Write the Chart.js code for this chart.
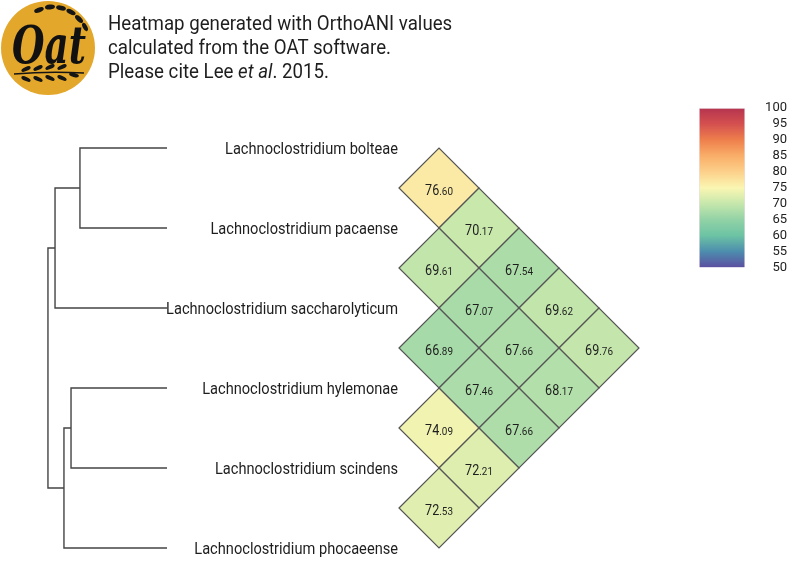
<!DOCTYPE html>
<html>
<head>
<meta charset="utf-8">
<script src="https://cdn.jsdelivr.net/npm/chart.js@4.4.1/dist/chart.umd.min.js"></script>
<style>
  html, body { margin: 0; padding: 0; background: #fff; }
  #wrap { position: relative; width: 789px; height: 561px; overflow: hidden; }
  #heat { position: absolute; left: 0; top: 0; }
  #bar { position: absolute; left: 690px; top: 95px; }
  #logo { position: absolute; left: 0; top: 0; }
  #note {
    position: absolute; left: 108px; top: 11px;
    font: 21px/24px Roboto, sans-serif; color: #1e1e1e;
    transform: scaleX(0.89); transform-origin: 0 0; white-space: nowrap;
  }
</style>
</head>
<body>
<div id="wrap">
  <canvas id="heat" width="789" height="561"></canvas>
  <canvas id="bar" width="99" height="185"></canvas>
  <svg id="logo" width="100" height="100" viewBox="0 0 100 100">
    <circle cx="48" cy="48" r="47" fill="#e3a72b"/>
    <g fill="#151515">
      <ellipse cx="39" cy="10" rx="5" ry="2.4" transform="rotate(-20 39 10)"/>
      <ellipse cx="50" cy="7" rx="5" ry="2.4" transform="rotate(-5 50 7)"/>
      <ellipse cx="61" cy="8" rx="5" ry="2.4" transform="rotate(12 61 8)"/>
      <ellipse cx="71" cy="12" rx="5" ry="2.4" transform="rotate(28 71 12)"/>
      <ellipse cx="79" cy="19" rx="5" ry="2.4" transform="rotate(45 79 19)"/>
      <ellipse cx="85" cy="27" rx="4.5" ry="2.2" transform="rotate(62 85 27)"/>
    </g>
    <path d="M14 74 Q48 71 84 73" stroke="#151515" stroke-width="1.6" fill="none"/>
    <g fill="#151515">
      <ellipse cx="26" cy="69" rx="5" ry="2" transform="rotate(-25 26 69)"/>
      <ellipse cx="38" cy="68" rx="5" ry="2" transform="rotate(-25 38 68)"/>
      <ellipse cx="50" cy="67" rx="5" ry="2" transform="rotate(-25 50 67)"/>
      <ellipse cx="62" cy="67" rx="5" ry="2" transform="rotate(-25 62 67)"/>
      <ellipse cx="26" cy="79" rx="5" ry="2" transform="rotate(25 26 79)"/>
      <ellipse cx="38" cy="79" rx="5" ry="2" transform="rotate(25 38 79)"/>
      <ellipse cx="50" cy="78" rx="5" ry="2" transform="rotate(25 50 78)"/>
      <ellipse cx="62" cy="78" rx="5" ry="2" transform="rotate(25 62 78)"/>
      <ellipse cx="74" cy="75" rx="5" ry="2" transform="rotate(15 74 75)"/>
    </g>
    <text x="49" y="63" text-anchor="middle" font-family="DejaVu Serif" font-weight="bold"
          font-style="italic" font-size="52" textLength="74" lengthAdjust="spacingAndGlyphs"
          fill="#111">Oat</text>
  </svg>
  <div id="note">Heatmap generated with OrthoANI values<br>calculated from the OAT software.<br>Please cite Lee <i>et al</i>. 2015.</div>
</div>

<script>
// leaves, top to bottom
const leafNames = [
  'Lachnoclostridium bolteae',
  'Lachnoclostridium pacaense',
  'Lachnoclostridium saccharolyticum',
  'Lachnoclostridium hylemonae',
  'Lachnoclostridium scindens',
  'Lachnoclostridium phocaeense'
];

// OrthoANI pairs (leaf index i, leaf index j) and values
const pairI = [0, 0, 1, 0, 1, 0, 2, 1, 0, 2, 1, 3, 2, 3, 4];
const pairJ = [1, 2, 2, 3, 3, 4, 3, 4, 5, 4, 5, 4, 5, 5, 5];
const aniValues = [76.60, 70.17, 69.61, 67.54, 67.07, 69.62, 66.89, 67.66,
                   69.76, 67.46, 68.17, 74.09, 67.66, 72.21, 72.53];

// dendrogram merges: children (0-5 leaves, 6+ earlier merges) and height
const mergeLeft = [0, 6, 3, 8, 7];
const mergeRight = [1, 2, 4, 5, 9];
const mergeHeight = [11.7, 15.05, 12.9, 13.85, 16.0];

// colour key
const keyTicks = [50, 55, 60, 65, 70, 75, 80, 85, 90, 95, 100];
const keyColors = ['#5b4ea0', '#4d8dae', '#6cc3a4', '#92d2a6', '#c6e7ac', '#faf6b2',
                   '#fcd08a', '#f9ae69', '#ee7f4c', '#d4504f', '#b5344f'];

const W = 789, H = 561;
const leafStep = 80, leafTop = 148, cellLeft = 399, treeTip = 167, treeUnit = 7.44;

function hexRgb(h) {
  return [1, 3, 5].map(k => parseInt(h.slice(k, k + 2), 16));
}

function colorFor(v) {
  if (v <= keyTicks[0]) return keyColors[0];
  for (let k = 1; k < keyTicks.length; k++) {
    if (v <= keyTicks[k]) {
      const t = (v - keyTicks[k - 1]) / (keyTicks[k] - keyTicks[k - 1]);
      const a = hexRgb(keyColors[k - 1]), b = hexRgb(keyColors[k]);
      const c = a.map((x, n) => Math.round(x + (b[n] - x) * t));
      return `rgb(${c[0]},${c[1]},${c[2]})`;
    }
  }
  return keyColors[keyColors.length - 1];
}

const heatPoints = aniValues.map((v, k) => ({
  x: (pairJ[k] - pairI[k]) / 2,
  y: (pairI[k] + pairJ[k]) / 2,
  v: v
}));

// tree branches
const nodeY = leafNames.map((_, i) => i);
const nodeH = leafNames.map(() => 0);
const treeSets = [];
mergeLeft.forEach((a, k) => {
  const b = mergeRight[k], h = mergeHeight[k];
  treeSets.push({
    data: [
      {x: nodeH[a], y: nodeY[a]}, {x: h, y: nodeY[a]},
      {x: h, y: nodeY[b]}, {x: nodeH[b], y: nodeY[b]}
    ],
    xAxisID: 'xTree',
    showLine: true,
    pointRadius: 0,
    borderColor: '#444',
    borderWidth: 1.4
  });
  nodeY.push((nodeY[a] + nodeY[b]) / 2);
  nodeH.push(h);
});

function drawNarrow(ctx, text, x, y, font, sx, align) {
  ctx.save();
  ctx.translate(x, y);
  ctx.scale(sx, 1);
  ctx.font = font;
  ctx.textAlign = align;
  ctx.textBaseline = 'alphabetic';
  ctx.fillText(text, 0, 0);
  ctx.restore();
}

const textPlugin = {
  id: 'textPlugin',
  afterDatasetsDraw(chart) {
    const {ctx, scales} = chart;
    ctx.save();
    ctx.fillStyle = '#1e1e1e';
    const labelX = scales.x.getPixelForValue(0) - 1;
    leafNames.forEach((name, i) => {
      drawNarrow(ctx, name, labelX, scales.y.getPixelForValue(i) + 6, '17px Roboto', 0.86, 'right');
    });

    const meta = chart.getDatasetMeta(0);
    const sx = 0.9;
    meta.data.forEach((pt, k) => {
      const s = aniValues[k].toFixed(2);
      const dot = s.indexOf('.');
      const whole = s.slice(0, dot), frac = s.slice(dot);
      ctx.font = '14px Roboto';
      const w1 = ctx.measureText(whole).width;
      ctx.font = '11px Roboto';
      const w2 = ctx.measureText(frac).width;
      const start = pt.x - (w1 + w2) * sx / 2;
      drawNarrow(ctx, whole, start, pt.y + 6.5, '14px Roboto', sx, 'left');
      drawNarrow(ctx, frac, start + w1 * sx, pt.y + 6.5, '11px Roboto', sx, 'left');
    });
    ctx.restore();
  }
};

new Chart(document.getElementById('heat'), {
  type: 'scatter',
  data: {
    datasets: [{
      data: heatPoints,
      pointStyle: 'rectRot',
      pointRadius: (c) => {
        const y = c.chart.scales.y;
        return y ? Math.abs(y.getPixelForValue(0.5) - y.getPixelForValue(0)) : 40;
      },
      backgroundColor: (c) => c.raw ? colorFor(c.raw.v) : '#fff',
      borderColor: '#555',
      borderWidth: 1.2
    }, ...treeSets]
  },
  options: {
    responsive: false,
    animation: false,
    events: [],
    layout: {padding: 0},
    plugins: {legend: {display: false}, tooltip: {enabled: false}},
    scales: {
      x: {type: 'linear', display: false, min: -cellLeft / leafStep, max: (W - cellLeft) / leafStep},
      y: {type: 'linear', display: false, reverse: true, min: -leafTop / leafStep, max: (H - leafTop) / leafStep},
      xTree: {type: 'linear', axis: 'x', display: false, reverse: true,
              min: (treeTip - W) / treeUnit, max: treeTip / treeUnit}
    }
  },
  plugins: [textPlugin]
});

// colour key
new Chart(document.getElementById('bar'), {
  type: 'bar',
  data: {
    labels: [''],
    datasets: [{
      data: [[keyTicks[0], keyTicks[keyTicks.length - 1]]],
      backgroundColor: (c) => {
        const {chartArea, scales} = c.chart;
        if (!chartArea) return keyColors[5];
        const y0 = scales.y.getPixelForValue(keyTicks[0]);
        const y1 = scales.y.getPixelForValue(keyTicks[keyTicks.length - 1]);
        const g = c.chart.ctx.createLinearGradient(0, y0, 0, y1);
        keyColors.forEach((col, k) => g.addColorStop(k / (keyColors.length - 1), col));
        return g;
      },
      borderColor: 'rgba(220,200,210,0.6)',
      borderWidth: 1,
      barPercentage: 1,
      categoryPercentage: 1
    }]
  },
  options: {
    responsive: false,
    animation: false,
    events: [],
    layout: {padding: {left: 9, top: 13, bottom: 12, right: 2}},
    plugins: {legend: {display: false}, tooltip: {enabled: false}},
    scales: {
      x: {display: false},
      y: {
        position: 'right', min: 50, max: 100,
        grid: {display: false}, border: {display: false},
        ticks: {stepSize: 5, autoSkip: false, crossAlign: 'far', padding: 6, color: '#222',
                font: {family: 'Roboto', size: 13, lineHeight: 1}}
      }
    }
  }
});
</script>
</body>
</html>
